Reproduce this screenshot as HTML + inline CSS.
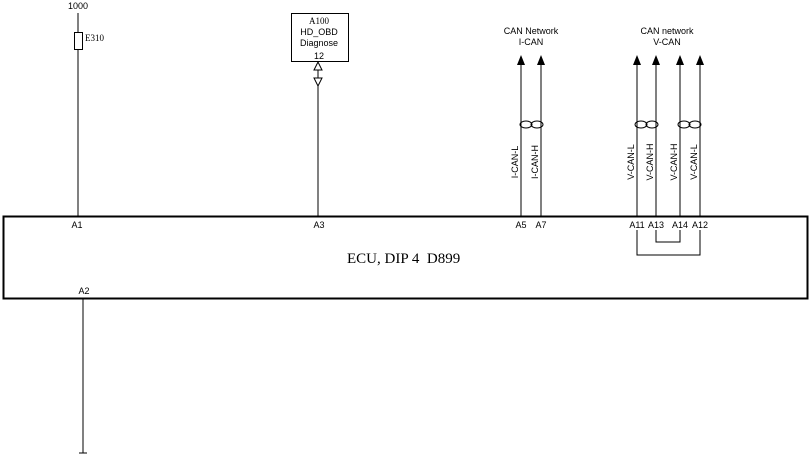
<!DOCTYPE html>
<html><head><style>
body{margin:0;background:#fff;width:812px;height:458px;overflow:hidden}
svg{display:block}
.s{font-family:"Liberation Sans",sans-serif;font-size:9px;fill:#000}
.r{font-family:"Liberation Serif",serif;font-size:9px;fill:#000}
</style></head><body>
<svg width="812" height="458" viewBox="0 0 812 458" xmlns="http://www.w3.org/2000/svg">
<g stroke="#000" stroke-width="1" fill="none">
<line x1="78" y1="13" x2="78" y2="216"/>
<rect x="74.5" y="32.5" width="8" height="17" fill="#fff"/>
<rect x="291.5" y="13.5" width="57" height="48"/>
<line x1="318" y1="86" x2="318" y2="216"/>
<polygon points="318,62 314,70 322,70" fill="#fff"/>
<polygon points="318,86 314,78 322,78" fill="#fff"/>
<line x1="318" y1="70" x2="318" y2="78"/>
<rect x="3.5" y="216.5" width="804" height="82" stroke-width="2"/>
<line x1="83" y1="298" x2="83" y2="453"/>
<line x1="79" y1="453" x2="87" y2="453"/>
<line x1="521" y1="64" x2="521" y2="216"/>
<line x1="541" y1="64" x2="541" y2="216"/>
<line x1="637" y1="64" x2="637" y2="216"/>
<line x1="656" y1="64" x2="656" y2="216"/>
<line x1="680" y1="64" x2="680" y2="216"/>
<line x1="700" y1="64" x2="700" y2="216"/>
<ellipse cx="526" cy="124.5" rx="6" ry="3.5"/>
<ellipse cx="537" cy="124.5" rx="6" ry="3.5"/>
<ellipse cx="641" cy="124.5" rx="6" ry="3.5"/>
<ellipse cx="652" cy="124.5" rx="6" ry="3.5"/>
<ellipse cx="684" cy="124.5" rx="6" ry="3.5"/>
<ellipse cx="695" cy="124.5" rx="6" ry="3.5"/>
<polyline points="637,230 637,255 700,255 700,230"/>
<polyline points="656,230 656,242 680,242 680,230"/>
</g>
<g fill="#000">
<polygon points="521,55 517,65 525,65"/>
<polygon points="541,55 537,65 545,65"/>
<polygon points="637,55 633,65 641,65"/>
<polygon points="656,55 652,65 660,65"/>
<polygon points="680,55 676,65 684,65"/>
<polygon points="700,55 696,65 704,65"/>
</g>
<text class="s" x="78" y="9" text-anchor="middle">1000</text>
<text class="r" x="85" y="41">E310</text>
<text class="r" x="319" y="24" text-anchor="middle">A100</text>
<text class="s" x="319" y="35" text-anchor="middle">HD_OBD</text>
<text class="s" x="319" y="46" text-anchor="middle">Diagnose</text>
<text class="s" x="319" y="59" text-anchor="middle">12</text>
<text class="s" x="531" y="34" text-anchor="middle">CAN Network</text>
<text class="s" x="531" y="45" text-anchor="middle">I-CAN</text>
<text class="s" x="667" y="34" text-anchor="middle">CAN network</text>
<text class="s" x="667" y="45" text-anchor="middle">V-CAN</text>
<text class="s" transform="translate(518,162) rotate(-90)" text-anchor="middle">I-CAN-L</text>
<text class="s" transform="translate(538,162) rotate(-90)" text-anchor="middle">I-CAN-H</text>
<text class="s" transform="translate(634,162) rotate(-90)" text-anchor="middle">V-CAN-L</text>
<text class="s" transform="translate(653,162) rotate(-90)" text-anchor="middle">V-CAN-H</text>
<text class="s" transform="translate(677,162) rotate(-90)" text-anchor="middle">V-CAN-H</text>
<text class="s" transform="translate(697,162) rotate(-90)" text-anchor="middle">V-CAN-L</text>
<text class="s" x="77" y="228" text-anchor="middle">A1</text>
<text class="s" x="319" y="228" text-anchor="middle">A3</text>
<text class="s" x="521" y="228" text-anchor="middle">A5</text>
<text class="s" x="541" y="228" text-anchor="middle">A7</text>
<text class="s" x="637" y="228" text-anchor="middle">A11</text>
<text class="s" x="656" y="228" text-anchor="middle">A13</text>
<text class="s" x="680" y="228" text-anchor="middle">A14</text>
<text class="s" x="700" y="228" text-anchor="middle">A12</text>
<text class="s" x="84" y="294" text-anchor="middle">A2</text>
<text x="347" y="263" style="font-family:'Liberation Serif',serif;font-size:15px">ECU, DIP 4&#160; D899</text>
</svg>
</body></html>
